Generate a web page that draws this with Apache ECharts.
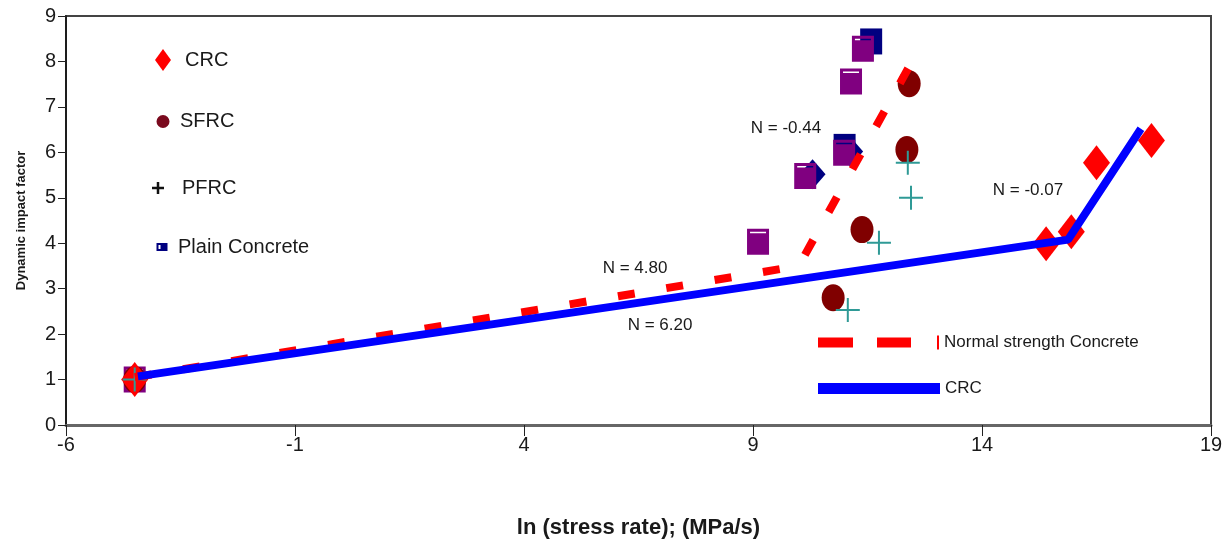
<!DOCTYPE html>
<html>
<head>
<meta charset="utf-8">
<script src="https://cdn.jsdelivr.net/npm/echarts@6/dist/echarts.min.js"></script>
<style>
  html, body { margin: 0; padding: 0; background: #fff; }
  #chart { width: 1228px; height: 546px; }
</style>
</head>
<body>
<div id="chart"></div>
<script>
// dynamic impact factor vs ln(stress rate)
const xTicks = [-6, -1, 4, 9, 14, 19]

const crcPts = [[-4.5, 1.0], [15.4, 3.99], [15.95, 4.25], [16.5, 5.77], [17.7, 6.26]]
const sfrcPts = [[-4.5, 1.0], [10.75, 2.8], [11.38, 4.3], [12.36, 6.06], [12.41, 7.51]]
const pfrcPts = [[-4.5, 1.0], [11.07, 2.53], [11.75, 4.01], [12.45, 5.0], [12.38, 5.77]]
const plainPts = [[-4.5, 1.0], [9.11, 4.03], [10.14, 5.48], [10.99, 5.99], [11.14, 7.56], [11.4, 8.28]]
// navy markers partly hidden behind the purple ones
const plainBackSquares = [[11.0, 6.12], [11.58, 8.44]]
const plainBackDiamonds = [[10.3, 5.52], [11.12, 6.02]]

// fitted lines
const nscLine = [[-4.5, 1.05], [10.0, 3.5], [12.5, 8.05]]
const crcLine = [[-4.43, 1.07], [15.88, 4.08], [17.47, 6.52]]

const PLUS = 'path://M11,0h2v11h11v2h-11v11h-2v-11h-11v-2h11z'
const PLUS_LEG = 'path://M4.75,0h2.5v4.75h4.75v2.5h-4.75v4.75h-2.5v-4.75h-4.75v-2.5h4.75z'
const DIAMOND_LEG = 'path://M8,0L16,11L8,22L0,11Z'
const CIRCLE_LEG = 'path://M6.5,0A6.5,6.5,0,1,1,6.49,0Z'
const PLAIN_LEG = 'path://M0,0h11v8h-11z M2,2v4h2v-4z'
const PURPLE_SQ = 'path://M0,0h22v26h-22z M3,3v1.5h16v-1.5z'
const DASH_LEG = 'path://M0,2h35v10h-35z M59,2h34v10h-34z M119,0h2v14h-2z'

const font = 'Arial, "Liberation Sans", sans-serif'
const txt = '#1a1a1a'

const chart = echarts.init(document.getElementById('chart'))

const legendBase = {
  orient: 'vertical',
  padding: 0,
  symbolKeepAspect: true,
  textStyle: { fontSize: 20, color: txt, fontFamily: font }
}

chart.setOption({
  animation: false,
  grid: {
    left: 66, right: 17, top: 16, bottom: 121,
    show: true, borderColor: '#444', borderWidth: 2
  },
  xAxis: {
    type: 'value',
    min: -6, max: 19,
    name: 'ln (stress rate); (MPa/s)',
    nameLocation: 'middle',
    nameGap: 92,
    nameTextStyle: { fontSize: 22, fontWeight: 'bold', color: txt, fontFamily: font },
    axisLine: { show: true, onZero: false, lineStyle: { color: '#666', width: 3 } },
    axisTick: { show: true, customValues: xTicks, length: 11, lineStyle: { color: '#222', width: 1 } },
    axisLabel: { customValues: xTicks, fontSize: 20, color: txt, fontFamily: font, margin: 10 },
    splitLine: { show: false }
  },
  yAxis: {
    type: 'value',
    min: 0, max: 9, interval: 1,
    name: 'Dynamic impact factor',
    nameLocation: 'middle',
    nameGap: 38,
    nameTextStyle: { fontSize: 13, fontWeight: 'bold', color: txt, fontFamily: font },
    axisLine: { show: true, onZero: false, lineStyle: { color: '#111', width: 1.5 } },
    axisTick: { show: true, length: 8, lineStyle: { color: '#222', width: 1 } },
    axisLabel: { fontSize: 20, color: txt, fontFamily: font, margin: 10 },
    splitLine: { show: false }
  },
  legend: [
    { ...legendBase, data: [{ name: 'CRC', icon: DIAMOND_LEG }], left: 155, top: 49, itemWidth: 34, itemHeight: 22 },
    { ...legendBase, data: [{ name: 'SFRC', icon: CIRCLE_LEG, itemStyle: { color: '#7a0a1e' } }], left: 156.5, top: 111.5, itemWidth: 24, itemHeight: 13 },
    { ...legendBase, data: [{ name: 'PFRC', icon: PLUS_LEG, itemStyle: { color: '#111' } }], left: 152, top: 178, itemWidth: 38, itemHeight: 12 },
    { ...legendBase, data: [{ name: 'Plain Concrete', icon: PLAIN_LEG, itemStyle: { color: '#000080' } }], left: 156.5, top: 237, itemWidth: 22, itemHeight: 8 },
    { ...legendBase, data: [{ name: 'Normal strength Concrete', icon: DASH_LEG }], left: 818, top: 334, itemWidth: 121, itemHeight: 14,
      textStyle: { fontSize: 17, color: txt, fontFamily: font } },
    { ...legendBase, data: [{ name: 'CRC line', icon: 'rect' }], left: 818, top: 380, itemWidth: 122, itemHeight: 11,
      formatter: () => 'CRC', textStyle: { fontSize: 17, color: txt, fontFamily: font } }
  ],
  graphic: [
    { type: 'text', x: 786, y: 128, style: { text: 'N = -0.44', fontSize: 17, fontFamily: font, fill: txt, align: 'center', verticalAlign: 'middle' } },
    { type: 'text', x: 635, y: 268, style: { text: 'N = 4.80', fontSize: 17, fontFamily: font, fill: txt, align: 'center', verticalAlign: 'middle' } },
    { type: 'text', x: 660, y: 325, style: { text: 'N = 6.20', fontSize: 17, fontFamily: font, fill: txt, align: 'center', verticalAlign: 'middle' } },
    { type: 'text', x: 1028, y: 190, style: { text: 'N = -0.07', fontSize: 17, fontFamily: font, fill: txt, align: 'center', verticalAlign: 'middle' } }
  ],
  series: [
    {
      name: 'Plain back sq', type: 'scatter', data: plainBackSquares,
      symbol: 'rect', symbolSize: [22, 26], itemStyle: { color: '#000080', opacity: 1 }
    },
    {
      name: 'Plain back dm', type: 'scatter', data: plainBackDiamonds,
      symbol: 'diamond', symbolSize: [26, 30], itemStyle: { color: '#000080', opacity: 1 }
    },
    {
      name: 'Plain Concrete', type: 'scatter', data: plainPts,
      symbol: PURPLE_SQ, symbolSize: [22, 26], symbolKeepAspect: false,
      itemStyle: { color: '#800080', opacity: 1 }
    },
    {
      name: 'SFRC', type: 'scatter', data: sfrcPts,
      symbol: 'circle', symbolSize: [23, 27], itemStyle: { color: '#800000', opacity: 1 }
    },
    {
      name: 'CRC', type: 'scatter', data: crcPts,
      symbol: 'diamond', symbolSize: [27, 35], itemStyle: { color: '#ff0000', opacity: 1 }
    },
    {
      name: 'PFRC', type: 'scatter', data: pfrcPts,
      symbol: PLUS, symbolSize: 24, itemStyle: { color: '#2f9a96', opacity: 1 }
    },
    {
      name: 'Normal strength Concrete', type: 'line', data: nscLine,
      symbol: 'none', color: '#ff0000',
      lineStyle: { color: '#ff0000', width: 8, type: [17, 32], cap: 'butt' }
    },
    {
      name: 'CRC line', type: 'line', data: crcLine,
      symbol: 'none', color: '#0000ff',
      lineStyle: { color: '#0000ff', width: 8 }
    }
  ]
})
</script>
</body>
</html>
